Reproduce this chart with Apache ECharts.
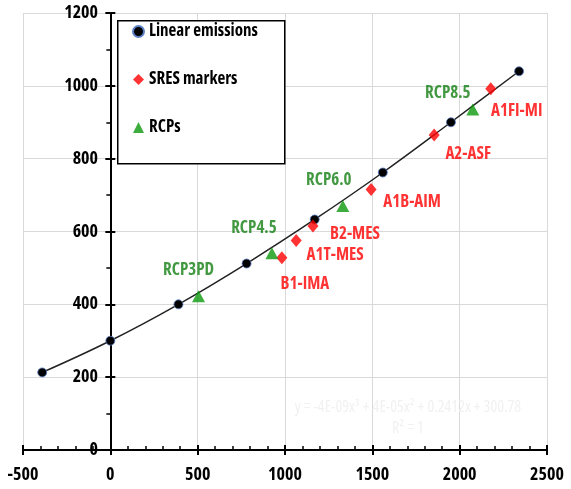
<!DOCTYPE html>
<html>
<head>
<meta charset="utf-8">
<script src="https://cdn.jsdelivr.net/npm/echarts@6/dist/echarts.min.js"></script>
<style>html,body{margin:0;padding:0;background:#fff}#c{width:571px;height:489px}</style>
</head>
<body>
<div id="c"></div>
<script>
// ---- data ----
const linearX = [-390, 0, 390, 780, 1170, 1560, 1950, 2340];
const linearY = [213, 300, 400, 512, 633, 762, 900, 1040];

const sresNames = ['B1-IMA', 'A1T-MES', 'B2-MES', 'A1B-AIM', 'A2-ASF', 'A1FI-MI'];
const sresX = [982, 1064, 1160, 1493, 1854, 2178];
const sresY = [528, 575, 615, 715, 865, 992];

const rcpNames = ['RCP3PD', 'RCP4.5', 'RCP6.0', 'RCP8.5'];
const rcpX = [505, 925, 1331, 2075];
const rcpY = [422, 540, 670, 935];

const xTicks = [-500, 0, 500, 1000, 1500, 2000, 2500];
const yTicks = [0, 200, 400, 600, 800, 1000, 1200];

const legendNames = ['Linear emissions', 'SRES markers', 'RCPs'];
const equationText = 'y = -4E-09x³ + 4E-05x² + 0.2412x + 300.78';
const r2Text = 'R² = 1';

// ---- styling (label offsets in pixels) ----
const labelOffset = {
  'B1-IMA': [23, 26], 'A1T-MES': [39, 15], 'B2-MES': [42, 8], 'A1B-AIM': [41, 13],
  'A2-ASF': [34, 19], 'A1FI-MI': [26, 22],
  'RCP3PD': [-10, -26], 'RCP4.5': [-18, -25], 'RCP6.0': [-14, -26], 'RCP8.5': [-25, -16]
};
const FONT = "'Open Sans', sans-serif";
const STRETCH = 'condensed';
const Y_LABEL_MARGIN = -75; // y labels sit just left of the x = 0 axis line

function pts(xs, ys, names) {
  return xs.map((x, i) => {
    const o = { value: [x, ys[i]] };
    if (names) {
      o.name = names[i];
      o.label = { offset: labelOffset[names[i]] };
    }
    return o;
  });
}

const chart = echarts.init(document.getElementById('c'));
const gridLine = { show: true, lineStyle: { color: '#d9d9d9', width: 1 } };
const labelFont = { fontFamily: FONT, fontStyle: STRETCH, fontWeight: 'bold', fontSize: 18, color: '#000' };
const xBase = { type: 'value', min: xTicks[0], max: xTicks[xTicks.length - 1], interval: 500 };
const yBase = { type: 'value', min: yTicks[0], max: yTicks[yTicks.length - 1], interval: 200 };

chart.setOption({
  animation: false,
  backgroundColor: '#fff',
  grid: { left: 23, right: 24, top: 13, bottom: 39, containLabel: false, outerBoundsMode: 'none' },
  xAxis: [
    Object.assign({}, xBase, {
      position: 'bottom',
      axisLine: { show: true, onZero: true, onZeroAxisIndex: 0, lineStyle: { color: '#000', width: 2 } },
      axisTick: { show: true, inside: true, length: 5, lineStyle: { color: '#000', width: 2 } },
      minorTick: { show: true, splitNumber: 5, length: 4, lineStyle: { color: '#000', width: 1.5 } },
      axisLabel: Object.assign({ margin: 16, formatter: v => String(v) }, labelFont),
      splitLine: gridLine
    }),
    Object.assign({}, xBase, {
      position: 'bottom',
      axisLine: { show: false, onZero: true, onZeroAxisIndex: 0 },
      axisTick: { show: true, inside: false, length: 5, lineStyle: { color: '#000', width: 2 } },
      axisLabel: { show: false }, splitLine: { show: false }
    })
  ],
  yAxis: [
    Object.assign({}, yBase, {
      position: 'left',
      axisLine: { show: true, onZero: true, onZeroAxisIndex: 0, lineStyle: { color: '#000', width: 2 } },
      axisTick: { show: true, inside: false, length: 5, lineStyle: { color: '#000', width: 2 } },
      minorTick: { show: true, splitNumber: 2, length: 4, lineStyle: { color: '#000', width: 1.5 } },
      axisLabel: { show: false },
      splitLine: gridLine
    }),
    Object.assign({}, yBase, {
      position: 'left',
      axisLine: { show: false, onZero: true, onZeroAxisIndex: 0 },
      axisTick: { show: true, inside: true, length: 5, lineStyle: { color: '#000', width: 2 } },
      axisLabel: { show: false }, splitLine: { show: false }
    }),
    Object.assign({}, yBase, {
      position: 'left',
      axisLine: { show: false, onZero: false },
      axisTick: { show: false },
      axisLabel: Object.assign({ margin: Y_LABEL_MARGIN, formatter: v => String(v) }, labelFont),
      splitLine: { show: false }
    })
  ],
  legend: {
    orient: 'vertical', left: 132, top: 23, padding: 0, itemGap: 31, itemWidth: 11, itemHeight: 11,
    z: 20,
    textStyle: { fontFamily: FONT, fontStyle: STRETCH, fontWeight: 'bold', fontSize: 17, lineHeight: 17, color: '#000' },
    data: [
      { name: legendNames[0], icon: 'circle' },
      { name: legendNames[1], icon: 'diamond' },
      { name: legendNames[2], icon: 'triangle' }
    ]
  },
  graphic: [
    { type: 'rect', z: 10, left: 117, top: 20, shape: { width: 167, height: 143 },
      style: { fill: '#fff', stroke: '#000', lineWidth: 1.5 } },
    { type: 'text', z: 5, x: 408, y: 407,
      style: { text: equationText, fill: '#f1f1f1', font: STRETCH + " 16px " + FONT, align: 'center', verticalAlign: 'middle' } },
    { type: 'text', z: 5, x: 408, y: 428,
      style: { text: r2Text, fill: '#f1f1f1', font: STRETCH + " 16px " + FONT, align: 'center', verticalAlign: 'middle' } }
  ],
  series: [
    {
      name: legendNames[0], type: 'line', smooth: 0.4, data: pts(linearX, linearY),
      symbol: 'circle', symbolSize: 9, z: 3,
      lineStyle: { color: '#222', width: 1.5 },
      itemStyle: { color: '#000', borderColor: '#5b7fc4', borderWidth: 0.8 }
    },
    {
      name: legendNames[1], type: 'scatter', data: pts(sresX, sresY, sresNames),
      symbol: 'diamond', symbolSize: [11, 13], z: 4,
      itemStyle: { color: '#ff0000' },
      label: { show: true, position: 'inside', formatter: '{b}', color: '#ff0000',
        fontFamily: FONT, fontStyle: STRETCH, fontWeight: 'bold', fontSize: 17, align: 'center', verticalAlign: 'middle' }
    },
    {
      name: legendNames[2], type: 'scatter', data: pts(rcpX, rcpY, rcpNames),
      symbol: 'triangle', symbolSize: [13, 12], z: 4,
      itemStyle: { color: '#0c9a0c' },
      label: { show: true, position: 'inside', formatter: '{b}', color: '#138013',
        fontFamily: FONT, fontStyle: STRETCH, fontWeight: 'bold', fontSize: 17, align: 'center', verticalAlign: 'middle' }
    }
  ]
});
</script>
</body>
</html>
